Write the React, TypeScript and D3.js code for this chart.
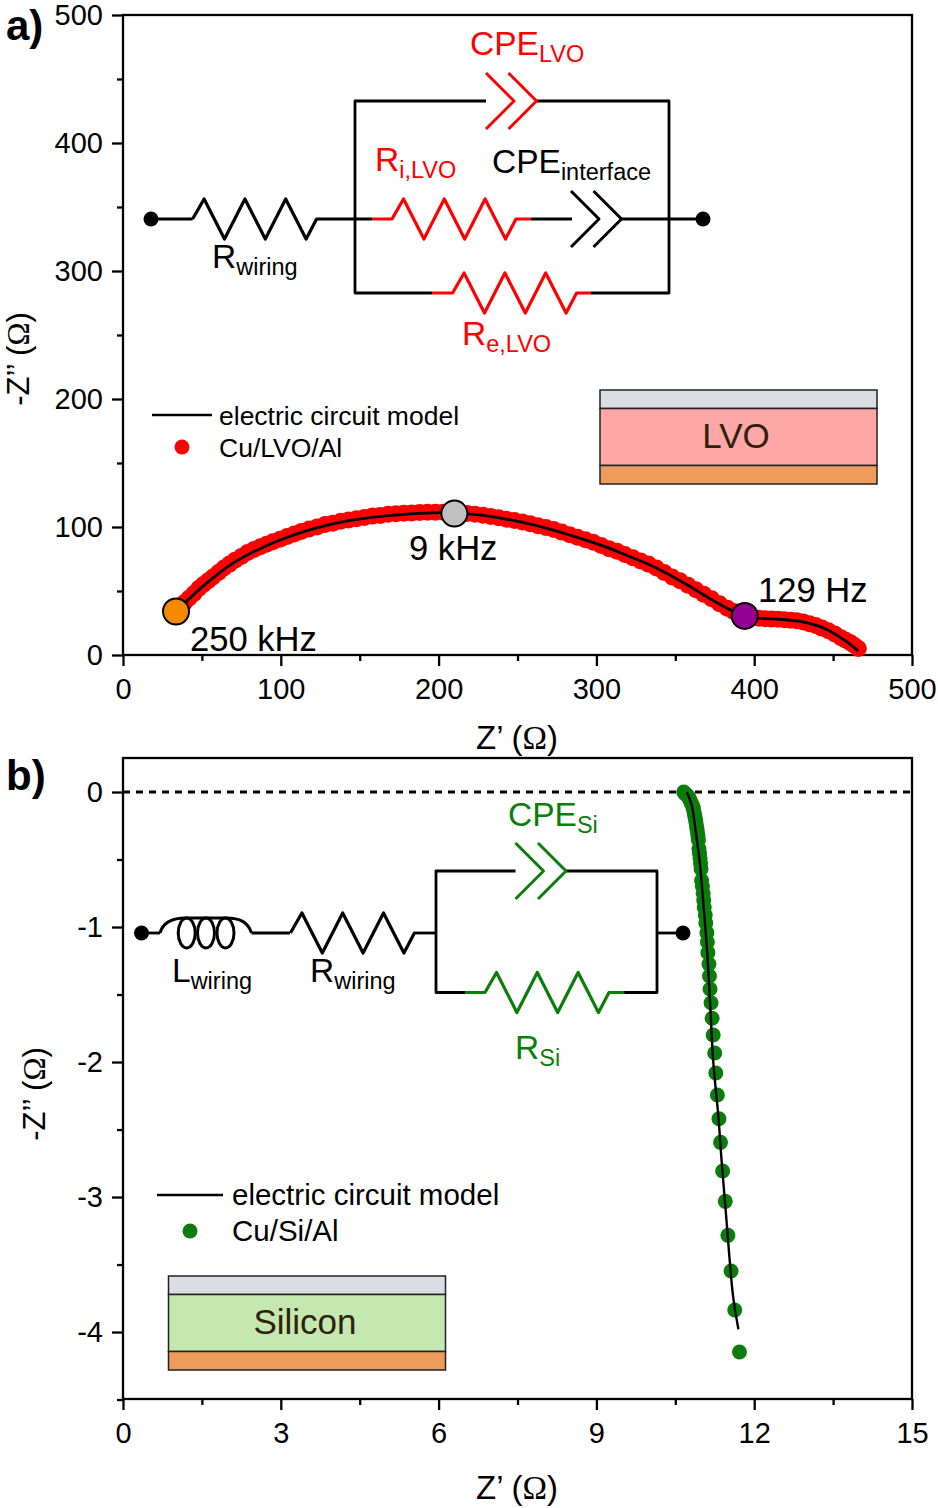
import React, { useEffect, useRef } from "react";
import * as d3 from "d3";

// Panel a: Cu/LVO/Al
const lvoX = [33.5, 36, 39, 42, 45, 48, 51, 54, 57, 60.5, 64, 67.5, 71, 75, 79, 83, 87, 91, 95, 99.5, 104, 108.5, 113, 118, 123, 128, 133, 138, 143, 148, 153, 158, 163, 168, 173, 178, 183, 188, 193, 198, 203, 208, 213, 218, 223, 228, 233, 238, 243, 248, 253, 258, 263, 268, 273, 278, 283, 288, 293, 298, 303, 308, 313, 318, 323, 328, 333, 338, 343, 348, 353, 358, 363, 368, 373, 378, 383, 387, 391, 395, 399, 403, 407, 411, 415, 419, 423, 427, 431, 435, 439, 443, 447, 451, 455, 458, 461, 463.5, 466];
const lvoY = [34, 37.5, 41, 44.5, 48, 52, 55, 58, 61, 64.5, 68, 71, 74, 77, 80, 82.5, 84.5, 86.5, 88.5, 90.5, 92.5, 94.5, 96.5, 98.5, 100, 102, 103, 104.5, 105.5, 106.5, 107.5, 108.5, 109, 110, 110.3, 110.7, 111, 111.3, 111.5, 111.5, 111.5, 111.2, 111, 110.5, 110, 109.2, 108.3, 107.3, 106, 105, 104, 102.5, 101, 99.7, 98, 96, 94, 92, 90, 88, 85.5, 83, 81, 78.5, 76, 73.5, 71, 68, 64.5, 61, 58, 54.5, 51, 47.5, 44, 40, 36.5, 34, 31.5, 30, 29.2, 28.8, 28.4, 28.2, 28, 27.6, 27.2, 26.7, 25.8, 24.5, 23, 21, 19, 16.5, 13.5, 11.5, 9.5, 7.5, 5];
const lvoModelX = [33, 50, 70, 100, 135, 170, 210, 252, 300, 318, 338, 358, 372, 387, 395, 400, 415, 430, 445, 459, 466];
const lvoModelY = [33, 53, 72, 90, 103, 109, 111, 104, 87, 78.5, 68, 54.5, 44, 34, 30, 29, 28, 26, 20.5, 10, 3];
const freqX = [33.6, 210, 394];
const freqY = [34, 110.5, 30.5];
const freqColors = ["#f58a00", "#c0c0c0", "#930093"];
const freqLabels = ["250 kHz", "9 kHz", "129 Hz"];

// Panel b: Cu/Si/Al
const siX = [10.66, 10.68, 10.71, 10.74, 10.76, 10.78, 10.80, 10.82, 10.84, 10.85, 10.86, 10.87, 10.88, 10.89, 10.90, 10.91, 10.92, 10.93, 10.94, 10.95, 10.96, 10.97, 10.98, 10.99, 11.0, 11.015, 11.03, 11.04, 11.05, 11.07, 11.08, 11.10, 11.11, 11.12, 11.14, 11.15, 11.16, 11.18, 11.20, 11.22, 11.25, 11.27, 11.30, 11.33, 11.36, 11.40, 11.45, 11.50, 11.56, 11.63, 11.72];
const siY = [0, -0.01, -0.02, -0.03, -0.045, -0.06, -0.08, -0.095, -0.115, -0.135, -0.155, -0.175, -0.195, -0.22, -0.245, -0.27, -0.295, -0.325, -0.355, -0.42, -0.455, -0.49, -0.53, -0.57, -0.655, -0.70, -0.75, -0.80, -0.855, -0.911, -0.97, -1.042, -1.111, -1.19, -1.274, -1.363, -1.459, -1.561, -1.676, -1.80, -1.933, -2.081, -2.244, -2.42, -2.595, -2.807, -3.032, -3.284, -3.548, -3.837, -4.148];
const siModelX = [10.72, 10.81, 10.89, 10.97, 11.03, 11.10, 11.16, 11.22, 11.32, 11.38, 11.46, 11.53, 11.60, 11.70];
const siModelY = [0, -0.096, -0.294, -0.54, -0.81, -1.15, -1.55, -1.99, -2.41, -2.73, -3.11, -3.45, -3.74, -3.98];

const aXTicks = [0, 100, 200, 300, 400, 500];
const aXMinor = [50, 150, 250, 350, 450];
const aYTicks = [0, 100, 200, 300, 400, 500];
const aYMinor = [50, 150, 250, 350, 450];
const bXTicks = [0, 3, 6, 9, 12, 15];
const bXMinor = [1.5, 4.5, 7.5, 10.5, 13.5];
const bYTicks = [0, -1, -2, -3, -4];
const bYMinor = [-0.5, -1.5, -2.5, -3.5, -4.5];

const FONT = "'Liberation Sans', Arial, sans-serif";
const RED = "#ff0000";
const GREEN = "#0a7d0a";

const App = () => {
    const svgRef = useRef<SVGSVGElement>(null);

    useEffect(() => {
        const svg = d3.select(svgRef.current);
        svg.selectAll("*").remove();
        svg.attr("font-family", FONT).attr("fill", "#000");

        const line2 = d3.line();

        const wire = (pts: [number, number][], color = "#000", width = 2.8) =>
            svg
                .append("path")
                .attr("d", line2(pts))
                .attr("fill", "none")
                .attr("stroke", color)
                .attr("stroke-width", width)
                .attr("stroke-linejoin", "round");

        // resistor: lead-in from xIn, three teeth starting at x0, lead-out to x1
        const resistor = (xIn: number, x0: number, x1: number, y: number, color: string) => {
            const pts: [number, number][] = [[xIn, y], [x0, y]];
            d3.range(6).forEach((i) =>
                pts.push([x0 + 11.5 + 20.4 * i, i % 2 === 0 ? y - 20 : y + 20])
            );
            pts.push([x0 + 124, y], [x1, y]);
            wire(pts, color, 3.2);
        };

        // constant phase element: two chevrons pointing right
        const cpe = (x: number, y: number, color: string) => {
            [0, 22.5].forEach((dx) =>
                wire(
                    [
                        [x + dx, y - 28],
                        [x + dx + 28, y],
                        [x + dx, y + 28],
                    ],
                    color,
                    3
                )
            );
        };

        const dot = (x: number, y: number) =>
            svg.append("circle").attr("cx", x).attr("cy", y).attr("r", 7.5).attr("fill", "#000");

        const subLabel = (
            x: number,
            y: number,
            main: string,
            sub: string,
            color = "#000",
            size = 33.5
        ) => {
            const t = svg
                .append("text")
                .attr("x", x)
                .attr("y", y)
                .attr("fill", color)
                .attr("font-size", size)
                .text(main);
            t.append("tspan").attr("dy", 7).attr("font-size", 23.5).text(sub);
        };

        const label = (x: number, y: number, s: string, size: number, anchor = "start", color = "#000") =>
            svg
                .append("text")
                .attr("x", x)
                .attr("y", y)
                .attr("font-size", size)
                .attr("text-anchor", anchor)
                .attr("fill", color)
                .text(s);

        // Frame, ticks and tick labels
        const axes = (
            xScale: d3.ScaleLinear<number, number>,
            yScale: d3.ScaleLinear<number, number>,
            xTicks: number[],
            xMinor: number[],
            yTicks: number[],
            yMinor: number[]
        ) => {
            const [x0, x1] = xScale.range();
            const [y0, y1] = yScale.range();
            const g = svg.append("g");
            g.append("rect")
                .attr("x", x0)
                .attr("y", y1)
                .attr("width", x1 - x0)
                .attr("height", y0 - y1)
                .attr("fill", "none")
                .attr("stroke", "#000")
                .attr("stroke-width", 2.3);

            const style = (a: d3.Selection<any, any, any, any>) => {
                a.select(".domain").remove();
                a.selectAll("line").attr("stroke", "#000").attr("stroke-width", 2.3);
                a.selectAll("text")
                    .attr("font-size", 29)
                    .attr("font-family", FONT)
                    .attr("fill", "#000");
            };
            g.append("g")
                .attr("transform", `translate(0,${y0})`)
                .call(d3.axisBottom(xScale).tickValues(xMinor).tickSize(6).tickFormat(() => ""))
                .call(style);
            g.append("g")
                .attr("transform", `translate(0,${y0})`)
                .call(d3.axisBottom(xScale).tickValues(xTicks).tickSize(11).tickPadding(12).tickFormat(d3.format("d")))
                .call(style);
            g.append("g")
                .attr("transform", `translate(${x0},0)`)
                .call(d3.axisLeft(yScale).tickValues(yMinor).tickSize(6).tickFormat(() => ""))
                .call(style);
            g.append("g")
                .attr("transform", `translate(${x0},0)`)
                .call(
                    d3
                        .axisLeft(yScale)
                        .tickValues(yTicks)
                        .tickSize(11)
                        .tickPadding(9)
                        .tickFormat((d) => String(d))
                )
                .call(style);
        };

        const axisTitleX = (y: number) => {
            const t = label(517, y, "Z’ (", 33, "middle");
            t.append("tspan").attr("font-family", "'Liberation Serif', serif").text("Ω");
            t.append("tspan").text(")");
        };
        const axisTitleY = (x: number, y: number) => {
            const t = svg
                .append("text")
                .attr("transform", `translate(${x},${y}) rotate(-90)`)
                .attr("text-anchor", "middle")
                .attr("font-size", 31)
                .text("-Z’’ (");
            t.append("tspan").attr("font-family", "'Liberation Serif', serif").text("Ω");
            t.append("tspan").text(")");
        };

        const stack = (x: number, y: number, fill: string, name: string, nameX: number) => {
            const w = 277;
            const parts: [number, number, string][] = [
                [y, 18.5, "#dcdce4"],
                [y + 18.5, 57, fill],
                [y + 75.5, 18.5, "#ee9c5c"],
            ];
            parts.forEach(([py, h, c]) =>
                svg
                    .append("rect")
                    .attr("x", x)
                    .attr("y", py)
                    .attr("width", w)
                    .attr("height", h)
                    .attr("fill", c)
                    .attr("stroke", "#222")
                    .attr("stroke-width", 1.5)
            );
            label(nameX, y + 58, name, 35, "middle", "#2e2208");
        };

        const legend = (
            x0: number,
            x1: number,
            lineY: number,
            dotX: number,
            dotY: number,
            textX: number,
            size: number,
            name: string,
            color: string
        ) => {
            wire([[x0, lineY], [x1, lineY]], "#000", 2.6);
            label(textX, lineY + 9.5, "electric circuit model", size);
            svg.append("circle").attr("cx", dotX).attr("cy", dotY).attr("r", 7.5).attr("fill", color);
            label(textX, dotY + 9.5, name, size);
        };

        // ---------- Panel a ----------
        const xA = d3.scaleLinear().domain([0, 500]).range([123, 912]);
        const yA = d3.scaleLinear().domain([0, 500]).range([655, 15]);
        axes(xA, yA, aXTicks, aXMinor, aYTicks, aYMinor);

        svg.append("g")
            .selectAll("circle")
            .data(lvoX)
            .join("circle")
            .attr("cx", (d) => xA(d))
            .attr("cy", (_, i) => yA(lvoY[i]))
            .attr("r", 8.5)
            .attr("fill", RED);

        svg.append("path")
            .attr(
                "d",
                d3
                    .line<number>()
                    .x((d) => xA(d))
                    .y((_, i) => yA(lvoModelY[i]))
                    .curve(d3.curveCatmullRom)(lvoModelX)
            )
            .attr("fill", "none")
            .attr("stroke", "#000")
            .attr("stroke-width", 2.8);

        svg.append("g")
            .selectAll("circle")
            .data(freqX)
            .join("circle")
            .attr("cx", (d) => xA(d))
            .attr("cy", (_, i) => yA(freqY[i]))
            .attr("r", 13)
            .attr("fill", (_, i) => freqColors[i])
            .attr("stroke", "#000")
            .attr("stroke-width", 2);

        label(190, 651, freqLabels[0], 34.6);
        label(409, 560, freqLabels[1], 34.6);
        label(758, 602, freqLabels[2], 34.6);

        label(6, 40, "a)", 42).attr("font-weight", "bold");
        axisTitleX(749);
        axisTitleY(29, 359);

        legend(152, 212, 415, 182, 447, 219, 26.5, "Cu/LVO/Al", RED);
        stack(600, 390, "#ffa6a6", "LVO", 736);

        // circuit a
        wire([[151, 219], [192.6, 219]]);
        wire([[317, 219], [372, 219]]);
        wire([[531, 219], [572, 219]]);
        wire([[621, 219], [703, 219]]);
        wire([[486, 101], [355, 101], [355, 293], [432, 293]]);
        wire([[536, 101], [669, 101], [669, 293], [591, 293]]);
        resistor(192.6, 192.6, 317, 219, "#000");
        resistor(372, 392, 531, 219, RED);
        resistor(432, 452.6, 591, 293, RED);
        cpe(486, 101, RED);
        cpe(571, 219, "#000");
        dot(151, 219);
        dot(703, 219);
        subLabel(470, 55, "CPE", "LVO", RED);
        subLabel(375, 171, "R", "i,LVO", RED);
        subLabel(492, 173, "CPE", "interface");
        subLabel(212, 268, "R", "wiring");
        subLabel(462, 345, "R", "e,LVO", RED);

        // ---------- Panel b ----------
        const xB = d3.scaleLinear().domain([0, 15]).range([123, 912]);
        const yB = d3.scaleLinear().domain([-4.496, 0.252]).range([1399, 758]);
        axes(xB, yB, bXTicks, bXMinor, bYTicks, bYMinor);

        svg.append("line")
            .attr("x1", xB(0))
            .attr("x2", xB(15))
            .attr("y1", yB(0))
            .attr("y2", yB(0))
            .attr("stroke", "#000")
            .attr("stroke-width", 3)
            .attr("stroke-dasharray", "7 6");

        svg.append("g")
            .selectAll("circle")
            .data(siX)
            .join("circle")
            .attr("cx", (d) => xB(d))
            .attr("cy", (_, i) => yB(siY[i]))
            .attr("r", 7.5)
            .attr("fill", GREEN);

        svg.append("path")
            .attr(
                "d",
                d3
                    .line<number>()
                    .x((d) => xB(d))
                    .y((_, i) => yB(siModelY[i]))
                    .curve(d3.curveCatmullRom)(siModelX)
            )
            .attr("fill", "none")
            .attr("stroke", "#000")
            .attr("stroke-width", 2.4);

        label(6, 790, "b)", 42).attr("font-weight", "bold");
        axisTitleX(1499);
        axisTitleY(45, 1094);

        legend(157, 223, 1195, 190, 1231, 232, 29.5, "Cu/Si/Al", GREEN);
        stack(168.5, 1276, "#c5e8b0", "Silicon", 305);

        // circuit b
        wire([[141.5, 933], [160, 933]]);
        wire([[251.5, 933], [290, 933]]);
        wire([[415, 933], [436, 933]]);
        wire([[657, 933], [683, 933]]);
        wire([[515.5, 871], [436, 871], [436, 992.5], [465, 992.5]]);
        wire([[566, 871], [657, 871], [657, 992.5], [624, 992.5]]);

        // inductor: humps over three loops
        svg.append("path")
            .attr("d", "M160,933 C163,922 172,918 186,918 L226,918 C240,918 248,922 251.5,933")
            .attr("fill", "none")
            .attr("stroke", "#000")
            .attr("stroke-width", 3);
        [186.7, 206, 225.5].forEach((cx) =>
            svg
                .append("ellipse")
                .attr("cx", cx)
                .attr("cy", 933)
                .attr("rx", 8.5)
                .attr("ry", 15)
                .attr("fill", "none")
                .attr("stroke", "#000")
                .attr("stroke-width", 3)
        );

        resistor(290.4, 290.4, 415, 933, "#000");
        resistor(465, 485, 624.4, 992.5, GREEN);
        cpe(515.5, 871, GREEN);
        dot(141.5, 933);
        dot(683, 933);
        subLabel(508, 826, "CPE", "Si", GREEN);
        subLabel(172, 982, "L", "wiring");
        subLabel(310, 982, "R", "wiring");
        subLabel(515, 1059, "R", "Si", GREEN);
    }, []);

    return (
        <svg
            ref={svgRef}
            width={938}
            height={1508}
            style={{ position: "absolute", left: 0, top: 0, background: "#fff" }}
        ></svg>
    );
};

export default App;
